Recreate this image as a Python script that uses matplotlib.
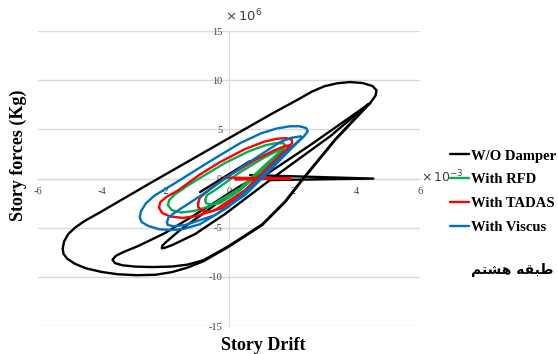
import numpy as np
import matplotlib
matplotlib.use('Agg')
import matplotlib.pyplot as plt

# story drift in 1e-3, story force in 1e6 kg
wo_outer = [(-5.22, -7.10), (-5.18, -6.40), (-5.05, -5.65), (-4.82, -4.95), (-4.53, -4.30),
            (-4.06, -3.45), (-2.48, -0.47), (0.0, 4.12), (1.40, 6.70), (2.14, 8.00), (2.60, 8.85),
            (3.00, 9.40), (3.40, 9.70), (3.80, 9.82), (4.20, 9.72), (4.50, 9.42), (4.63, 8.98),
            (4.60, 8.45), (4.43, 7.68), (3.33, 3.92), (2.30, -0.15), (1.76, -2.39), (1.04, -4.73),
            (-0.03, -6.97), (-0.80, -8.40), (-1.30, -9.05), (-1.80, -9.52), (-2.30, -9.78),
            (-2.90, -9.83), (-3.50, -9.73), (-4.00, -9.50), (-4.50, -9.12), (-4.85, -8.65),
            (-5.08, -8.15), (-5.20, -7.65), (-5.22, -7.10)]
wo_second = [(0.97, 0.36), (0.35, -0.76), (-0.53, -2.59), (-1.29, -4.12), (-2.01, -5.54),
             (-2.86, -6.87), (-3.30, -7.45), (-3.55, -7.85), (-3.66, -8.25), (-3.58, -8.60),
             (-3.35, -8.82), (-2.96, -8.95), (-2.40, -9.00), (-1.80, -8.95), (-1.30, -8.75),
             (-0.80, -8.30), (-0.03, -6.90), (1.04, -4.66), (1.76, -2.32), (2.30, -0.08),
             (3.33, 3.98), (4.37, 7.58)]
wo_third = [(4.37, 7.58), (3.18, 4.32), (2.23, 2.09), (1.45, 0.25), (0.66, -1.68), (-0.13, -3.61),
            (-1.07, -5.65), (-1.79, -6.77), (-2.00, -7.02), (-2.11, -7.10), (-2.10, -6.85),
            (-1.98, -6.46), (-1.54, -5.24), (-0.75, -3.41), (0.09, -1.37), (0.91, 0.25)]
wo_branch = [(4.43, 7.68), (2.55, 3.41), (1.23, 0.56)]
wo_flat = [(0.66, 0.36), (4.53, 0.0), (1.29, -0.15)]
wo_short = [(-0.91, -1.37), (0.66, 1.78)]

rfd_outer = [(-1.92, -2.70), (-1.88, -2.20), (-1.70, -1.60), (-1.23, -0.56), (-0.13, 1.58),
             (0.60, 2.75), (1.10, 3.35), (1.45, 3.60), (1.70, 3.60), (1.78, 3.35), (1.60, 2.75),
             (1.13, 1.37), (0.35, -0.97), (-0.60, -2.80), (-1.10, -3.30), (-1.50, -3.45),
             (-1.80, -3.20), (-1.92, -2.70)]
rfd_inner = [(-0.75, -2.19), (-0.70, -1.70), (-0.44, -1.17), (0.35, 0.66), (1.13, 2.19),
             (1.50, 2.80), (1.70, 3.10), (1.68, 2.80), (1.04, 0.86), (0.35, -1.17),
             (-0.28, -2.49), (-0.55, -2.65), (-0.72, -2.50), (-0.75, -2.19)]

tadas_outer = [(-2.20, -2.95), (-2.16, -2.40), (-1.98, -1.90), (-1.60, -1.20), (-0.90, 0.45),
               (-0.28, 1.68), (0.50, 3.00), (1.10, 3.75), (1.50, 4.05), (1.80, 4.12), (1.97, 3.95),
               (1.98, 3.60), (1.80, 3.00), (1.29, 1.37), (0.50, -1.17), (-0.44, -3.20),
               (-1.00, -3.80), (-1.45, -4.00), (-1.85, -3.85), (-2.10, -3.50), (-2.20, -2.95)]
tadas_inner = [(-0.97, -2.50), (-0.92, -1.95), (-0.75, -1.47), (-0.13, 0.05), (0.82, 1.88),
               (1.40, 2.85), (1.75, 3.30), (1.93, 3.40), (1.90, 3.10), (1.29, 1.07),
               (0.50, -1.37), (-0.22, -3.00), (-0.60, -3.38), (-0.85, -3.25), (-0.97, -2.90),
               (-0.97, -2.50)]
tadas_flat = [(-0.15, 0.10), (1.95, 0.0), (0.20, -0.10)]

visc_outer = [(-2.80, -3.95), (-2.77, -3.35), (-2.62, -2.55), (-2.35, -1.75), (-1.54, -0.15),
              (-0.69, 1.58), (0.35, 3.61), (1.00, 4.60), (1.50, 5.10), (1.90, 5.32), (2.20, 5.33),
              (2.42, 5.15), (2.47, 4.80), (2.35, 4.30), (2.10, 3.60), (1.60, 2.09), (0.82, -0.46),
              (-0.03, -2.90), (-0.91, -4.63), (-1.40, -5.10), (-1.79, -5.24), (-2.20, -5.15),
              (-2.55, -4.80), (-2.75, -4.40), (-2.80, -3.95)]
visc_inner = [(-1.95, -4.43), (-1.90, -3.95), (-1.70, -3.45), (-0.91, -1.78), (0.35, 1.07),
              (1.60, 3.71), (1.95, 4.15), (2.25, 4.30), (2.30, 4.15), (2.00, 3.20), (1.29, 0.86),
              (0.50, -1.68), (-0.44, -3.71), (-1.38, -4.73), (-1.75, -4.85), (-1.93, -4.70),
              (-1.95, -4.43)]

series = [
    ('W/O Damper', '#000000', [wo_outer, wo_second, wo_third, wo_branch, wo_flat, wo_short]),
    ('With RFD', '#00b050', [rfd_outer, rfd_inner]),
    ('With TADAS', '#ff0000', [tadas_outer, tadas_inner, tadas_flat]),
    ('With Viscus', '#0070c0', [visc_outer, visc_inner]),
]
x_ticks = [-6, -4, -2, 0, 2, 4, 6]
y_ticks = [-15, -10, -5, 0, 5, 10, 15]

fig = plt.figure(figsize=(5.58, 3.54), dpi=100)
ax = fig.add_axes([0.068, 0.079, 0.685, 0.833])

for label, color, parts in series:
    for k, part in enumerate(parts):
        pts = np.array(part)
        ax.plot(pts[:, 0], pts[:, 1], color=color, lw=1.7, solid_joinstyle='round',
                solid_capstyle='round', label=label if k == 0 else None, zorder=3)

ax.set_xlim(-6, 6)
ax.set_ylim(-15, 15)
ax.set_xticks(x_ticks)
ax.set_yticks(y_ticks)
ax.set_xticklabels([str(v) for v in x_ticks])
ax.set_yticklabels([str(v) for v in y_ticks])
ax.yaxis.grid(True, color='#d9d9d9', lw=1)
ax.set_axisbelow(True)

for side in ['top', 'right']:
    ax.spines[side].set_visible(False)
ax.spines['left'].set_position(('data', 0))
ax.spines['bottom'].set_position(('data', 0))
ax.spines['left'].set_color('#d9d9d9')
ax.spines['bottom'].set_color('#d9d9d9')
ax.tick_params(length=0, labelsize=7.5, colors='#404040')
ax.tick_params(axis='x', pad=6)
ax.tick_params(axis='y', pad=5)
for t in ax.get_xticklabels() + ax.get_yticklabels():
    t.set_family('Liberation Serif')

fig.text(0.403, 0.955, r'$\times\,10^{6}$', fontsize=9.5, ha='left', va='center', color='#404040')
fig.text(0.755, 0.500, r'$\times\,10^{-3}$', fontsize=9, ha='left', va='center', color='#404040')

fig.text(0.033, 0.56, 'Story forces (Kg)', rotation=90, ha='center', va='center',
         family='Liberation Serif', weight='bold', fontsize=13)
fig.text(0.471, 0.025, 'Story Drift', ha='center', va='center',
         family='Liberation Serif', weight='bold', fontsize=13)

leg = ax.legend(loc='upper left', bbox_to_anchor=(0.807, 0.578), bbox_transform=fig.transFigure,
                frameon=False, handlelength=1.3, handletextpad=0.1, labelspacing=0.72,
                borderpad=0, borderaxespad=0,
                prop={'family': 'Liberation Serif', 'weight': 'bold', 'size': 10.5})

# Persian caption "طبقه هشتم" written with presentation forms in visual order
caption = '\uFEE2\uFE98\uFEB8\uFEEB \uFEEA\uFED8\uFE92\uFEC3'
fig.text(0.918, 0.237, caption, ha='center', va='center', family='DejaVu Sans',
         weight='bold', fontsize=10)

plt.savefig('out.png', dpi=100)
